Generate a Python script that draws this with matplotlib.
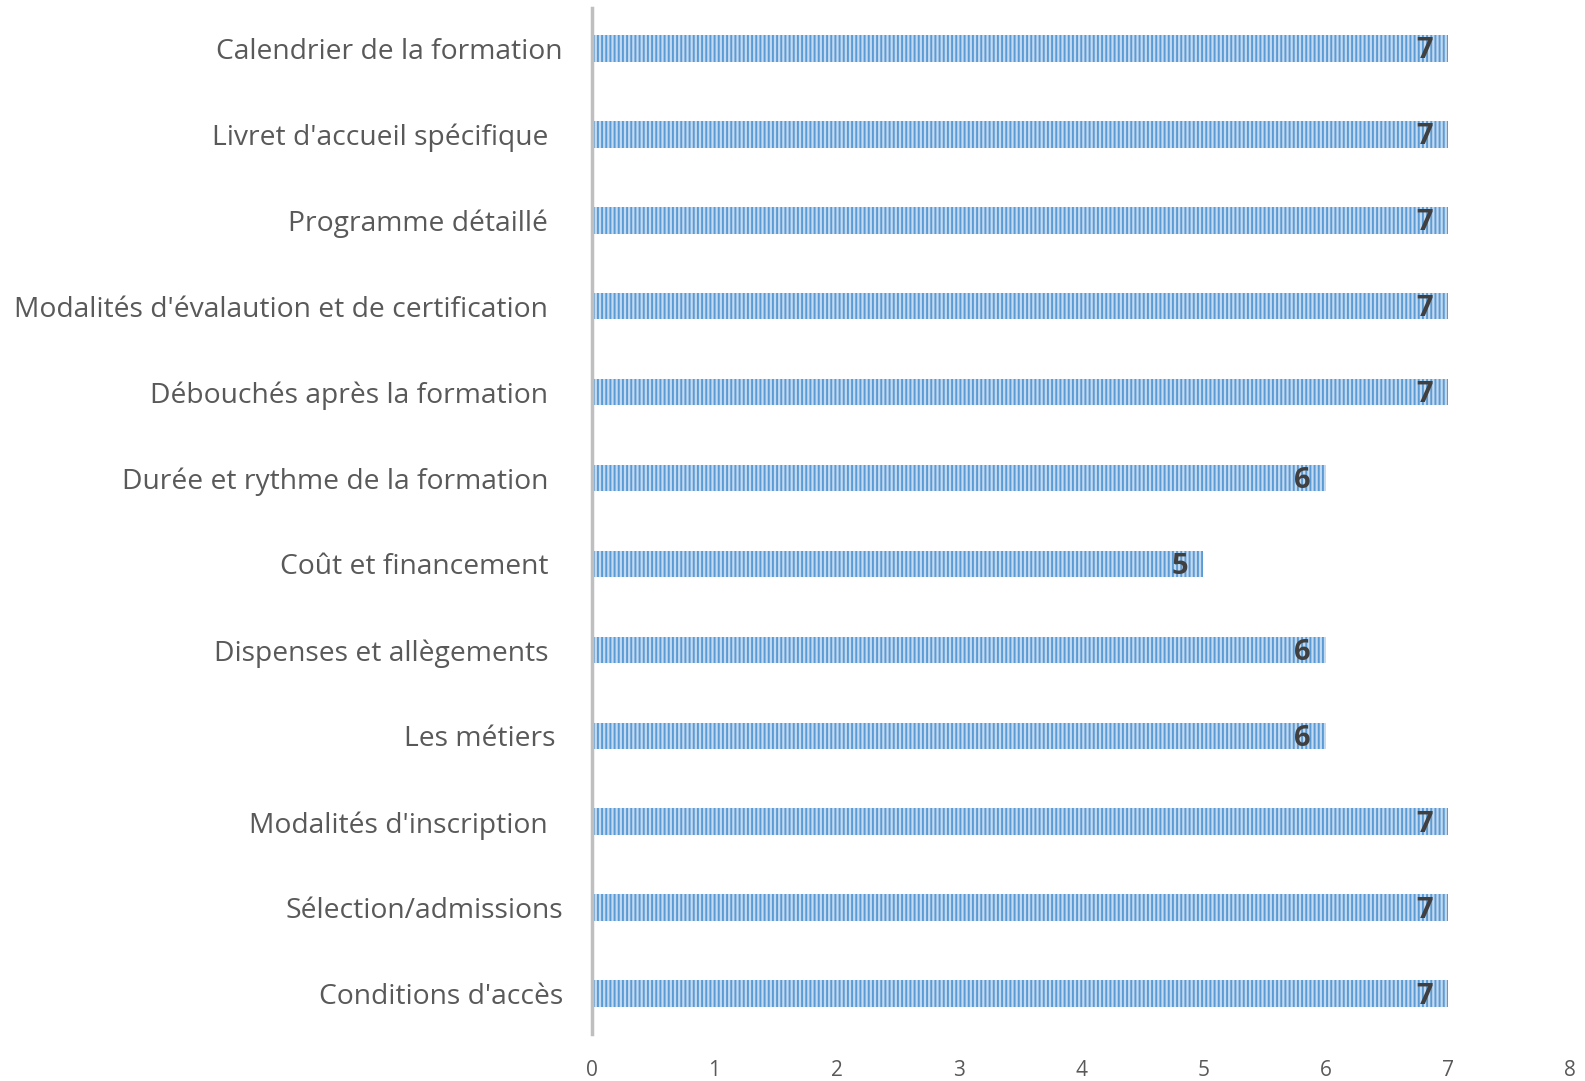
import matplotlib
matplotlib.use("Agg")
import matplotlib.pyplot as plt

categories = [
    "Conditions d'accès",
    "Sélection/admissions",
    "Modalités d'inscription  ",
    "Les métiers ",
    "Dispenses et allègements  ",
    "Coût et financement  ",
    "Durée et rythme de la formation  ",
    "Débouchés après la formation  ",
    "Modalités d'évalaution et de certification  ",
    "Programme détaillé  ",
    "Livret d'accueil spécifique  ",
    "Calendrier de la formation",
]
values = [7, 7, 7, 6, 6, 5, 6, 7, 7, 7, 7, 7]
xticks = [0, 1, 2, 3, 4, 5, 6, 7, 8]

plt.rcParams['font.family'] = ['Open Sans', 'DejaVu Sans']
plt.rcParams['hatch.linewidth'] = 1.4
plt.rcParams['hatch.color'] = '#5B9BD5'

W, H = 1585, 1081
fig = plt.figure(figsize=(W / 100, H / 100), dpi=100)
left, right, top, bottom = 592, 1570, 8, 1034
ax = fig.add_axes([left / W, 1 - bottom / H, (right - left) / W, (bottom - top) / H])

y = list(range(len(categories)))
ax.barh(y, values, height=0.31, color='#C3DAF0', edgecolor='#5B9BD5',
        hatch='||||', linewidth=0)

for yi, v in zip(y, values):
    ax.text(v - 0.19, yi - 0.03, str(v), ha='center', va='center', fontsize=21,
            fontweight='bold', color='#404040')

ax.set_xlim(0, 8)
ax.set_ylim(-0.47, 11.47)
ax.set_xticks(xticks)
ax.set_xticklabels([str(t) for t in xticks], fontsize=15, color='#595959')
ax.set_yticks(y)
ax.set_yticklabels(categories, fontsize=20.3, color='#595959')
ax.tick_params(axis='both', length=0)
ax.tick_params(axis='y', pad=21)
ax.tick_params(axis='x', pad=19)
for s in ['top', 'right', 'bottom']:
    ax.spines[s].set_visible(False)
ax.spines['left'].set_color('#BFBFBF')
ax.spines['left'].set_linewidth(2.5)

fig.savefig('out.png', dpi=100)
